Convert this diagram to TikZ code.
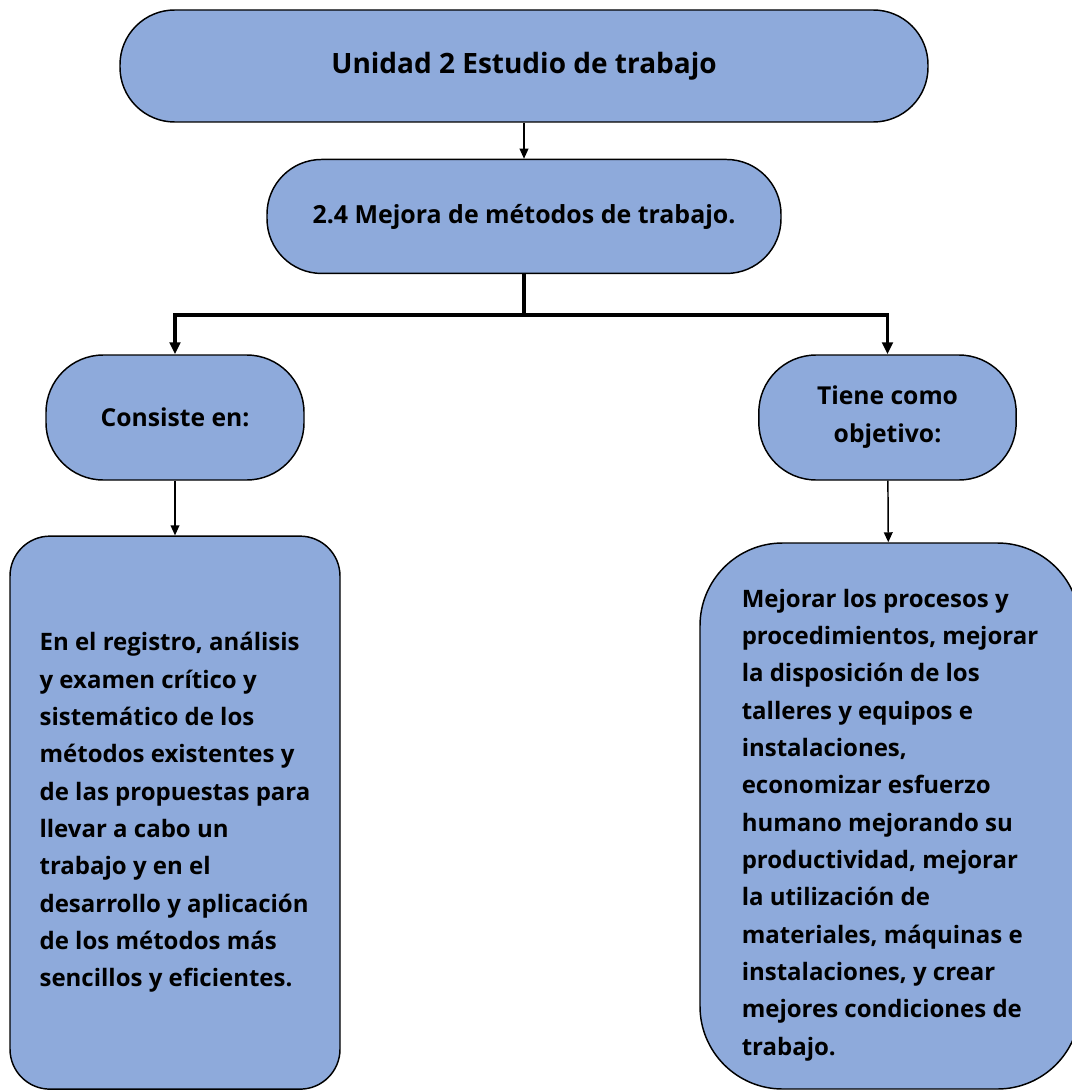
\documentclass[tikz,border=0pt]{standalone}
\usepackage{fontspec}
\setmainfont{Open Sans}
\usetikzlibrary{arrows.meta,positioning}
\definecolor{azul}{HTML}{8EAADB}
\tikzset{
    %Define standard arrow tip
    >={Triangle[length=7.5pt,width=6.5pt]},
    %Define style for boxes
    caja/.style={draw=black, line width=1.1pt, fill=azul, rounded corners=41pt, font=\bfseries, align=center},
    %Define style for the long text boxes
    texto/.style={caja, align=left, font=\fontsize{18}{28}\selectfont\bfseries},
    %Define style for connectors
    flecha/.style={->, line width=1.1pt},
    ramal/.style={-{Triangle[length=9pt,width=8pt]}, line width=2.6pt},
}
\begin{document}
\begin{tikzpicture}[x=0.75pt, y=-0.75pt, node distance=1cm]
    \useasboundingbox (0,0) rectangle (1071,1091);
    	\node[caja, minimum width=606pt, minimum height=84pt, font=\fontsize{21}{25}\selectfont\bfseries](unidad) at (524,66){Unidad 2 Estudio de trabajo};
    	\node[caja, minimum width=385.5pt, minimum height=85.5pt, below=27pt of unidad, font=\fontsize{18.7}{22}\selectfont\bfseries](mejora){\raisebox{3.5pt}{2.4 Mejora de métodos de trabajo.}};
    	\node[caja, minimum width=193.5pt, minimum height=93.75pt, rounded corners=43pt, font=\fontsize{18.5}{22}\selectfont\bfseries](consiste) at (175,417.5){Consiste en:};
    	\node[caja, minimum width=193pt, minimum height=93.75pt, rounded corners=43pt, font=\fontsize{18.5}{28.5}\selectfont\bfseries](tiene) at (887.5,417.5){Tiene como\\objetivo:};
    	\node[texto, minimum width=247.5pt, minimum height=414.75pt, rounded corners=30pt, below=41pt of consiste](registro){En el registro, análisis\\y examen crítico y\\sistemático de los\\métodos existentes y\\de las propuestas para\\llevar a cabo un\\trabajo y en el\\desarrollo y aplicación\\de los métodos más\\sencillos y eficientes.};
    	\node[texto, minimum width=285pt, minimum height=409.5pt, rounded corners=62pt](objetivo) at (890,816){\rule{0pt}{27pt}Mejorar los procesos y\\procedimientos, mejorar\\la disposición de los\\talleres y equipos e\\instalaciones,\\economizar esfuerzo\\humano mejorando su\\productividad, mejorar\\la utilización de\\materiales, máquinas e\\instalaciones, y crear\\mejores condiciones de\\trabajo.};

        \draw[flecha] (unidad) -- (mejora);
        \draw[ramal] (mejora.south) -- ++(0,41) -| (consiste.north);
        \draw[ramal] (mejora.south) -- ++(0,41) -| (tiene.north);
        \draw[flecha] (consiste) -- (registro);
        \draw[flecha] (tiene) -- (objetivo);
    \end{tikzpicture}
\end{document}
